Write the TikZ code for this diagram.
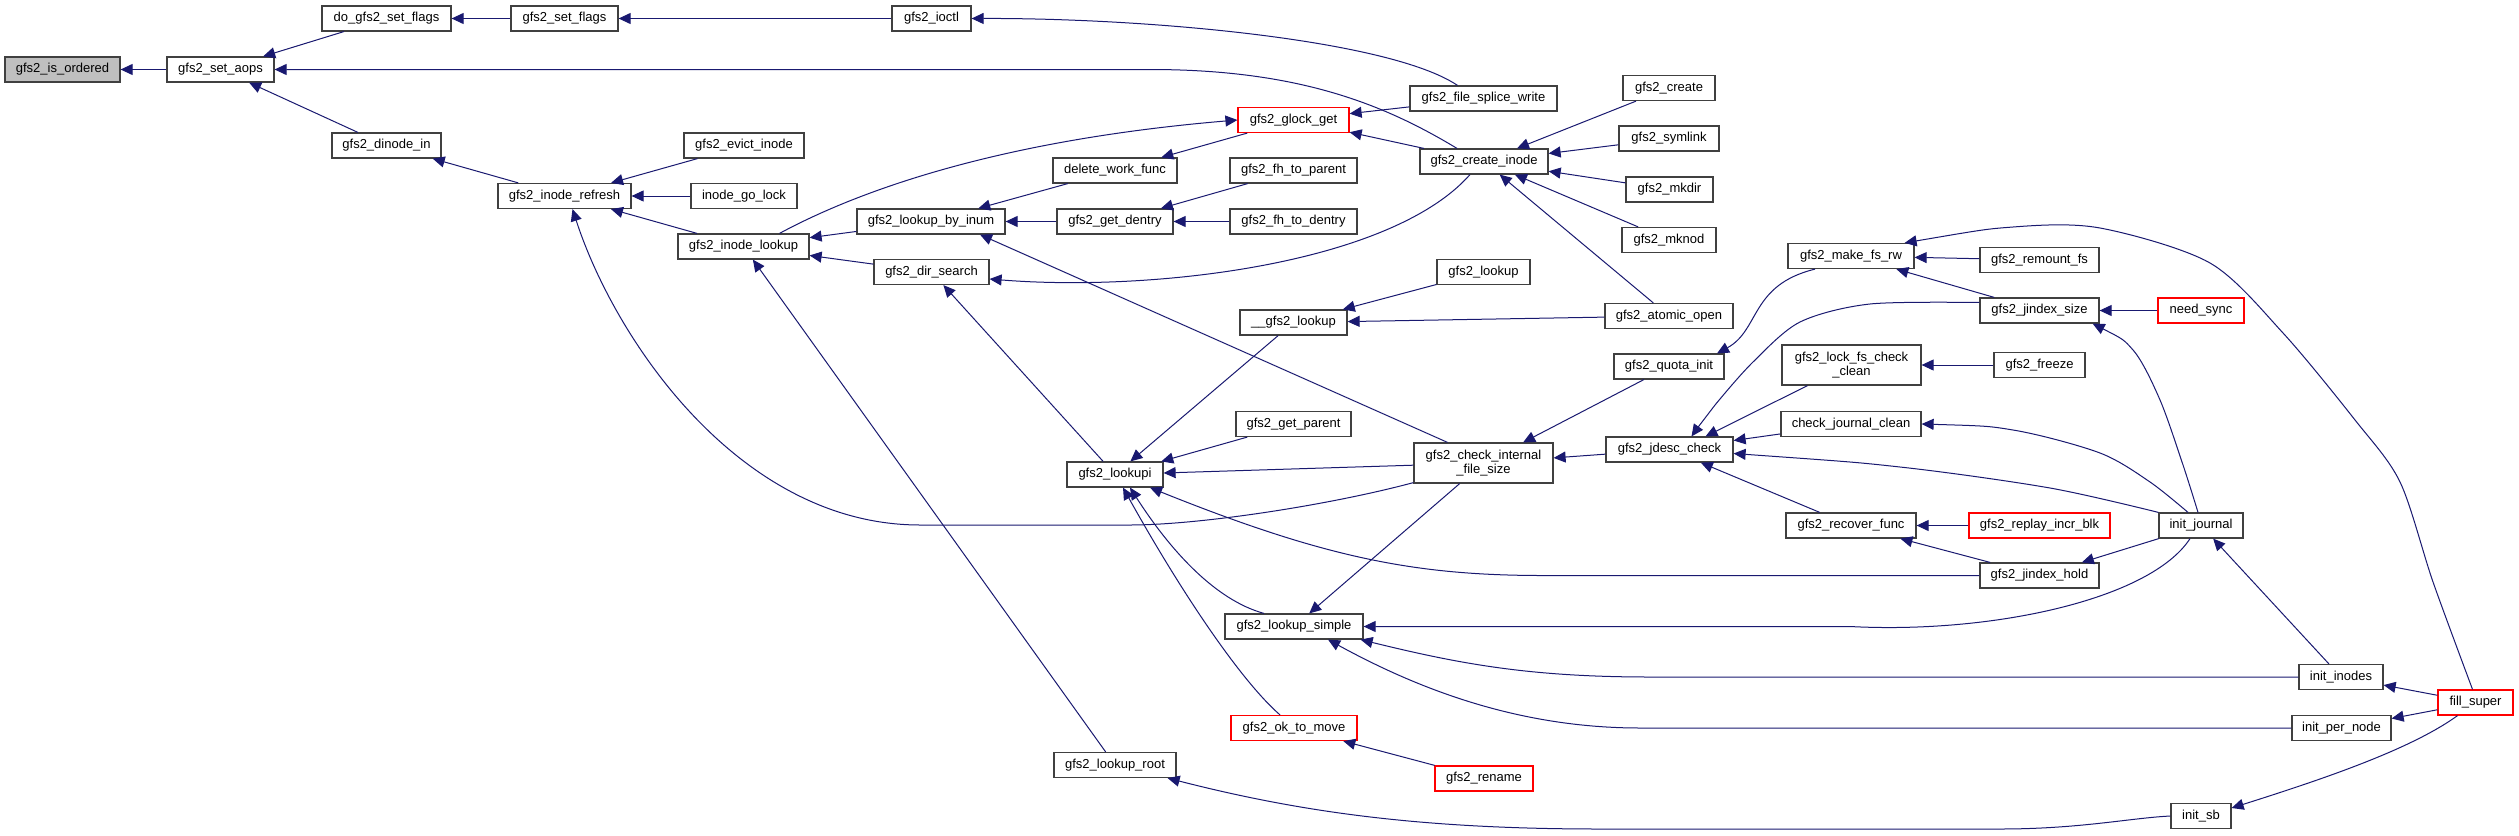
\documentclass[tikz,border=0pt]{standalone}
\usepackage{fontspec}
\setmainfont{Liberation Sans}
\usetikzlibrary{arrows.meta,calc}
\definecolor{eb}{HTML}{191970}
\definecolor{nred}{HTML}{FF0000}
\definecolor{nbord}{HTML}{404040}
\begin{document}
\begin{tikzpicture}[x=0.5pt,y=-0.5pt,
  fn/.style={draw=nbord, line width=0.6pt, fill=white, rectangle, inner sep=0pt,
    minimum height=12.5pt, font=\fontsize{6.5}{7}\selectfont, align=center},
  bw/.style={minimum width=#1*0.5pt},
  two/.style={minimum height=20pt},
  hot/.style={draw=nred},
  edge/.style={draw=eb, line width=0.5pt, >={Triangle[length=6pt,width=5.5pt]}, <-}]
\useasboundingbox (0,0) rectangle (2519,835);
\fill[white] (0,0) rectangle (2519,835);
% nodes
\node[fn, bw=115, fill=black!25] (isord) at (62.5,69.5) {gfs2\_is\_ordered};
\node[fn, bw=107] (setaops) at (220.5,69.5) {gfs2\_set\_aops};
\node[fn, bw=129] (dosetflags) at (386.5,18.5) {do\_gfs2\_set\_flags};
\node[fn, bw=109] (dinodein) at (386.5,145.5) {gfs2\_dinode\_in};
\node[fn, bw=107] (setflags) at (564.5,18.5) {gfs2\_set\_flags};
\node[fn, bw=120] (evict) at (744,145.5) {gfs2\_evict\_inode};
\node[fn, bw=106] (golock) at (744,196) {inode\_go\_lock};
\node[fn, bw=133] (refresh) at (564.5,196) {gfs2\_inode\_refresh};
\node[fn, bw=131] (ilookup) at (743.5,246.5) {gfs2\_inode\_lookup};
\node[fn, bw=79] (ioctl) at (931.5,18.5) {gfs2\_ioctl};
\node[fn, bw=111, hot] (glockget) at (1293.5,120) {gfs2\_glock\_get};
\node[fn, bw=124] (delwork) at (1115,170.5) {delete\_work\_func};
\node[fn, bw=148] (byinum) at (931,221.5) {gfs2\_lookup\_by\_inum};
\node[fn, bw=116] (getdentry) at (1115,221.5) {gfs2\_get\_dentry};
\node[fn, bw=127] (fhparent) at (1293.5,170.5) {gfs2\_fh\_to\_parent};
\node[fn, bw=127] (fhdentry) at (1293.5,221.5) {gfs2\_fh\_to\_dentry};
\node[fn, bw=115] (dirsearch) at (931.5,272) {gfs2\_dir\_search};
\node[fn, bw=107] (uulookup) at (1293.5,322.5) {\_\_gfs2\_lookup};
\node[fn, bw=115] (getparent) at (1293.5,424) {gfs2\_get\_parent};
\node[fn, bw=147] (splice) at (1483.5,98.5) {gfs2\_file\_splice\_write};
\node[fn, bw=128] (createinode) at (1484,161.5) {gfs2\_create\_inode};
\node[fn, bw=92] (create) at (1669,88) {gfs2\_create};
\node[fn, bw=100] (symlink) at (1669,138.5) {gfs2\_symlink};
\node[fn, bw=87] (mkdir) at (1669.5,189.5) {gfs2\_mkdir};
\node[fn, bw=94] (mknod) at (1669,240) {gfs2\_mknod};
\node[fn, bw=93] (lookup) at (1483.5,272) {gfs2\_lookup};
\node[fn, bw=128] (atomic) at (1669,316) {gfs2\_atomic\_open};
\node[fn, bw=110] (quota) at (1669,366.5) {gfs2\_quota\_init};
\node[fn, bw=126] (makefsrw) at (1851,256) {gfs2\_make\_fs\_rw};
\node[fn, bw=119] (remount) at (2039.5,260) {gfs2\_remount\_fs};
\node[fn, bw=119] (jsize) at (2039.5,310.5) {gfs2\_jindex\_size};
\node[fn, bw=139, two] (lockfs) at (1851.5,365) {gfs2\_lock\_fs\_check\\\_clean};
\node[fn, bw=91] (freeze) at (2039.5,365) {gfs2\_freeze};
\node[fn, bw=140] (cjclean) at (1851,424) {check\_journal\_clean};
\node[fn, bw=86, hot] (needsync) at (2201,310.5) {need\_sync};
\node[fn, bw=96] (lookupi) at (1115,474.5) {gfs2\_lookupi};
\node[fn, bw=122] (lookuproot) at (1115,765) {gfs2\_lookup\_root};
\node[fn, bw=138] (lsimple) at (1294,626.5) {gfs2\_lookup\_simple};
\node[fn, bw=126, hot] (oktomove) at (1294,728) {gfs2\_ok\_to\_move};
\node[fn, bw=139, two] (checkint) at (1483.5,463) {gfs2\_check\_internal\\\_file\_size};
\node[fn, bw=127] (jdesc) at (1669.5,449.5) {gfs2\_jdesc\_check};
\node[fn, bw=98, hot] (rename) at (1484,778.5) {gfs2\_rename};
\node[fn, bw=130] (recover) at (1851,525.5) {gfs2\_recover\_func};
\node[fn, bw=141, hot] (replay) at (2039.5,525.5) {gfs2\_replay\_incr\_blk};
\node[fn, bw=119] (jhold) at (2039.5,575.5) {gfs2\_jindex\_hold};
\node[fn, bw=84] (initjournal) at (2201,525.5) {init\_journal};
\node[fn, bw=84] (initinodes) at (2341,677) {init\_inodes};
\node[fn, bw=75, hot] (fillsuper) at (2475.5,702.5) {fill\_super};
\node[fn, bw=99] (pernode) at (2341.5,728) {init\_per\_node};
\node[fn, bw=60] (initsb) at (2201,816) {init\_sb};
% edges
\draw[edge] (isord) -- (setaops);
\draw[edge] (setaops) -- (dosetflags);
\draw[edge] (setaops) -- (dinodein);
\draw[edge] (dosetflags) -- (setflags);
\draw[edge] (setflags) -- (ioctl);
\draw[edge] (setaops.east) -- (1150,69.5) .. controls (1300,69.5) and (1385,105) .. ($(createinode.north)+(-27,0)$);
\draw[edge] (ioctl.east) .. controls (1150,18) and (1390,40) .. ($(splice.north)+(-26,0)$);
\draw[edge] (dinodein) -- (refresh);
\draw[edge] (refresh) -- (evict);
\draw[edge] (refresh) -- (golock);
\draw[edge] (refresh) -- (ilookup);
\draw[edge] (glockget.west) .. controls (1000,140) and (860,190) .. ($(ilookup.north)+(36,0)$);
\draw[edge] (ilookup) -- (byinum);
\draw[edge] (ilookup) -- (dirsearch);
\draw[edge] (ilookup) -- (lookuproot);
\draw[edge] (byinum) -- (delwork);
\draw[edge] (byinum) -- (getdentry);
\draw[edge] (getdentry) -- (fhparent);
\draw[edge] (getdentry) -- (fhdentry);
\draw[edge] ($(byinum.south)+(49,0)$) -- ($(checkint.north)+(-36,0)$);
\draw[edge] (delwork) -- (glockget);
\draw[edge] (glockget) -- (splice);
\draw[edge] (glockget) -- (createinode);
\draw[edge] ($(dirsearch.east)+(0,7)$) .. controls (1150,292) and (1390,265) .. ($(createinode.south)+(-14,0)$);
\draw[edge] (dirsearch) -- (lookupi);
\draw[edge] (createinode) -- (create);
\draw[edge] (createinode) -- (symlink);
\draw[edge] (createinode) -- (mkdir);
\draw[edge] (createinode) -- (mknod);
\draw[edge] (createinode) -- (atomic);
\draw[edge] (uulookup) -- (lookup);
\draw[edge] (uulookup) -- (atomic);
\draw[edge] (lookupi) -- (uulookup);
\draw[edge] (lookupi) -- (getparent);
\draw[edge] (lookupi) -- (checkint);
\draw[edge] ($(lookupi.south)+(35,0)$) .. controls (1330,560) and (1420,576) .. (1550,575.5) -- (jhold.west);
\draw[edge] ($(lookupi.south)+(15,0)$) .. controls (1170,550) and (1215,600) .. ($(lsimple.north)+(-30,0)$);
\draw[edge] ($(lookupi.south)+(8,0)$) .. controls (1180,590) and (1240,680) .. ($(oktomove.north)+(-14,0)$);
\draw[edge] (lsimple) -- (checkint);
\draw[edge] (checkint) -- (jdesc);
\draw[edge] (checkint) -- (quota);
\draw[edge] ($(refresh.south)+(8,0)$) .. controls (615,340) and (740,525) .. (920,525) -- (1130,525) .. controls (1200,525) and (1330,505) .. ($(checkint.south west)+(0,-1)$);
\draw[edge] ($(quota.north)+(48,0)$) .. controls (1760,330) and (1750,285) .. ($(makefsrw.south)+(-36,0)$);
\draw[edge] (makefsrw) -- (remount);
\draw[edge] (makefsrw) -- (jsize);
\draw[edge] plot[smooth] coordinates {($(makefsrw.north east)+(-10,0)$) (2013,227) (2100,228) (2210,263) (2283,333) (2355,420) (2400,482) (2433,582) ($(fillsuper.north)+(-3,0)$)};
\draw[edge] plot[smooth] coordinates {($(jdesc.north)+(22,0)$) (1715,405) (1753,362) (1800,322) (1870,304) ($(jsize.west)+(0,-8)$)};
\draw[edge] ($(jdesc.north)+(36,0)$) -- ($(lockfs.south)+(-44,0)$);
\draw[edge] (jsize) -- (needsync);
\draw[edge] plot[smooth] coordinates {($(jsize.south east)+(-7,0)$) (2133,350) (2160,400) (2183,465) ($(initjournal.north)+(-3,0)$)};
\draw[edge] (lockfs) -- (freeze);
\draw[edge] (jdesc) -- (cjclean);
\draw[edge] plot[smooth] coordinates {(cjclean.east) (2013,430) (2100,453) (2150,482) ($(initjournal.north)+(-13,0)$)};
\draw[edge] plot[smooth] coordinates {($(jdesc.east)+(0,4)$) (1900,467) (2050,488) (initjournal.north west)};
\draw[edge] (jdesc) -- (recover);
\draw[edge] (recover) -- (replay);
\draw[edge] (recover) -- (jhold);
\draw[edge] (jhold) -- (initjournal);
\draw[edge] (lsimple.east) -- (1850,626.5) .. controls (1990,634) and (2150,600) .. ($(initjournal.south)+(-11,0)$);
\draw[edge] ($(lsimple.south east)+(-3,0)$) .. controls (1460,664) and (1530,677) .. (1650,677) -- (initinodes.west);
\draw[edge] ($(lsimple.south)+(34,0)$) .. controls (1420,690) and (1520,728) .. (1640,728) -- (pernode.west);
\draw[edge] (oktomove) -- (rename);
\draw[edge] ($(lookuproot.south east)+(-9,0)$) .. controls (1300,812) and (1420,829) .. (1600,829) -- (2000,829) .. controls (2080,829) and (2130,818) .. (initsb.west);
\draw[edge] (initjournal) -- (initinodes);
\draw[edge] (initinodes) -- (fillsuper);
\draw[edge] (pernode) -- (fillsuper);
\draw[edge] ($(initsb.east)+(0,-8)$) .. controls (2320,780) and (2410,750) .. ($(fillsuper.south)+(-18,0)$);
\end{tikzpicture}
\end{document}
